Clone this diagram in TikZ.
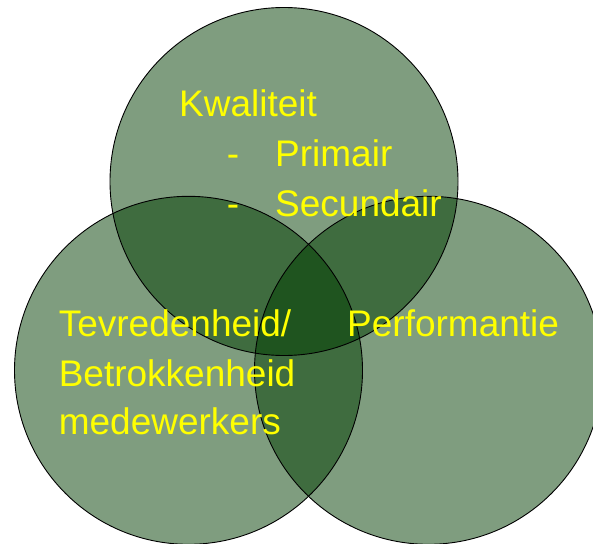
\documentclass[tikz,border=0pt]{standalone}
\usepackage{fontspec}
\setmainfont{Liberation Sans}
\definecolor{venn}{RGB}{0,60,0}
\definecolor{lbl}{RGB}{255,255,0}
\begin{document}
\begin{tikzpicture}[x=1pt,y=-1pt,
  vfill/.style={fill=venn,fill opacity=0.5},
  vline/.style={draw=black,line width=0.9pt},
  lbltext/.style={text=lbl,font=\fontsize{37}{44}\selectfont,anchor=base west,inner sep=0pt}]
\useasboundingbox (0,0) rectangle (593,543);
\clip (0,0) rectangle (593,543);
\coordinate (ct) at (284,181.5);
\coordinate (cl) at (188.5,370.3);
\coordinate (cr) at (428.5,370.3);
\fill[vfill] (ct) circle (174);
\fill[vfill] (cl) circle (174);
\fill[vfill] (cr) circle (174);
\draw[vline] (ct) circle (174);
\draw[vline] (cl) circle (174);
\draw[vline] (cr) circle (174);
\node[lbltext] (k) at (179,116.7) {Kwaliteit};
\node[lbltext] (d1) at (226.7,166.7) {-};
\node[lbltext] (p1) at (275,166.7) {Primair};
\node[lbltext] (d2) at (226.7,216.7) {-};
\node[lbltext] (p2) at (275,216.7) {Secundair};
\node[lbltext] (t1) at (58.6,336.6) {Tevredenheid/};
\node[lbltext] (t2) at (58.6,386) {Betrokkenheid};
\node[lbltext] (t3) at (58.6,434.6) {medewerkers};
\node[lbltext] (pf) at (347,336.6) {Performantie};
\end{tikzpicture}
\end{document}
